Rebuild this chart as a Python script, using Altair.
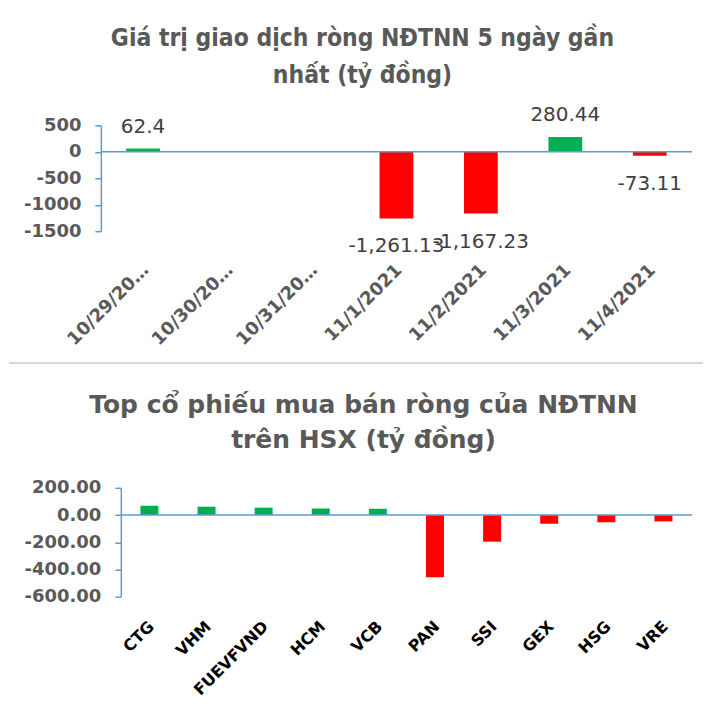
import altair as alt
import pandas as pd

# ---- data ----
dates = ["10/29/20…", "10/30/20…", "10/31/20…", "11/1/2021", "11/2/2021", "11/3/2021", "11/4/2021"]
net_values = [62.4, None, None, -1261.13, -1167.23, 280.44, -73.11]

stocks = ["CTG", "VHM", "FUEVFVND", "HCM", "VCB", "PAN", "SSI", "GEX", "HSG", "VRE"]
stock_values = [68, 61, 54, 48, 46, -458, -196, -64, -54, -47]

top_ticks = [-1500, -1000, -500, 0, 500]
bot_ticks = [-600, -400, -200, 0, 200]

title_top = ["Giá trị giao dịch ròng NĐTNN 5 ngày gần", "nhất (tỷ đồng)"]
title_bot = ["Top cổ phiếu mua bán ròng của NĐTNN", "trên HSX (tỷ đồng)"]

GREEN = "#00B050"
RED = "#FF0000"
BLUE = "#5B9BD5"
GRAY = "#595959"
LABEL = "#404040"
BORDER = "#D9D9D9"
FONT = "DejaVu Sans"
TFONT = "DejaVu Sans Condensed"

top_df = pd.DataFrame({"date": dates, "value": net_values})
bot_df = pd.DataFrame({"stock": stocks, "value": stock_values})
zero_df = pd.DataFrame({"zero": [0]})

color = alt.condition(alt.datum.value > 0, alt.value(GREEN), alt.value(RED))

# ---- top chart ----
x_top = alt.X(
    "date:N", sort=dates, title=None,
    scale=alt.Scale(paddingInner=0.6, paddingOuter=0.3),
    axis=alt.Axis(domain=False, ticks=False, labelAngle=-45, labelAlign="right",
                  labelBaseline="middle", labelPadding=36, labelOffset=3,
                  labelFont=FONT, labelFontSize=18, labelFontWeight="bold",
                  labelColor=GRAY, labelLimit=0),
)
y_top = alt.Y(
    "value:Q", title=None,
    scale=alt.Scale(domain=[-1500, 500], nice=False, zero=False),
    axis=alt.Axis(values=top_ticks, tickCount=10, format="d", grid=False, domainColor=BLUE,
                  domainWidth=1.5, tickColor=BLUE, tickWidth=1.5, tickSize=6,
                  labelPadding=14, labelFont=FONT, labelFontSize=18, labelOverlap=False,
                  labelFontWeight="bold", labelColor=GRAY),
)

top_base = alt.Chart(top_df).encode(x=x_top, y=y_top)
top_bars = top_base.mark_bar().encode(color=color)
top_pos = top_base.transform_filter("datum.value > 0").transform_calculate(
    label="format(datum.value, ',.2~f')"
).mark_text(font=FONT, fontSize=20, color=LABEL, baseline="alphabetic", dy=-16).encode(text="label:N")
top_neg = top_base.transform_filter("datum.value < 0").transform_calculate(
    label="format(datum.value, ',.2~f')"
).mark_text(font=FONT, fontSize=20, color=LABEL, baseline="alphabetic", dy=34).encode(text="label:N")
top_zero = alt.Chart(zero_df).mark_rule(color=BLUE, strokeWidth=1.5).encode(y="zero:Q")
divider = alt.Chart(zero_df).mark_rule(color=BORDER, strokeWidth=2).encode(
    x=alt.value(-92), x2=alt.value(603), y=alt.value(238)
)

top = alt.layer(top_bars, top_pos, top_neg, top_zero, divider).properties(
    width=592, height=106,
    title=alt.TitleParams(text=title_top, font=TFONT, fontSize=24.5, fontWeight="bold",
                          color=GRAY, frame="group", anchor="middle", dx=-34,
                          lineHeight=37, offset=17),
)

# ---- bottom chart ----
x_bot = alt.X(
    "stock:N", sort=stocks, title=None,
    scale=alt.Scale(paddingInner=0.685, paddingOuter=0.3425, rangeMin=20),
    axis=alt.Axis(domain=False, ticks=False, labelAngle=-45, labelAlign="right",
                  labelBaseline="middle", labelPadding=27, labelOffset=2,
                  labelFont=FONT, labelFontSize=16, labelFontWeight="bold",
                  labelColor="#000000", labelLimit=0),
)
y_bot = alt.Y(
    "value:Q", title=None,
    scale=alt.Scale(domain=[-600, 200], nice=False, zero=False),
    axis=alt.Axis(values=bot_ticks, tickCount=10, format=".2f", grid=False, domainColor=BLUE,
                  domainWidth=1.5, tickColor=BLUE, tickWidth=1.5, tickSize=6, offset=-20,
                  labelPadding=14, labelFont=FONT, labelFontSize=18, labelOverlap=False,
                  labelFontWeight="bold", labelColor=GRAY),
)

bot_base = alt.Chart(bot_df).encode(x=x_bot, y=y_bot)
bot_bars = bot_base.mark_bar().encode(color=color)
bot_zero = alt.Chart(zero_df).mark_rule(color=BLUE, strokeWidth=1.5).encode(
    y="zero:Q", x=alt.value(20), x2=alt.value(592)
)

bottom = alt.layer(bot_bars, bot_zero).properties(
    width=592, height=109,
    title=alt.TitleParams(text=title_bot, font=FONT, fontSize=25, fontWeight="bold",
                          color=GRAY, frame="group", anchor="middle", dx=-33,
                          lineHeight=35, offset=26),
)

chart = alt.vconcat(top, bottom, spacing=29).properties(
    padding={"left": 0, "top": 17, "right": 0, "bottom": 0}
).configure(
    locale=alt.Locale(number=alt.NumberLocale(decimal=".", thousands=",", grouping=[3],
                                              currency=["$", ""], minus="-")),
    view=alt.ViewConfig(strokeWidth=0),
)

chart.save("out.html", embed_options={"renderer": "svg", "actions": False})
